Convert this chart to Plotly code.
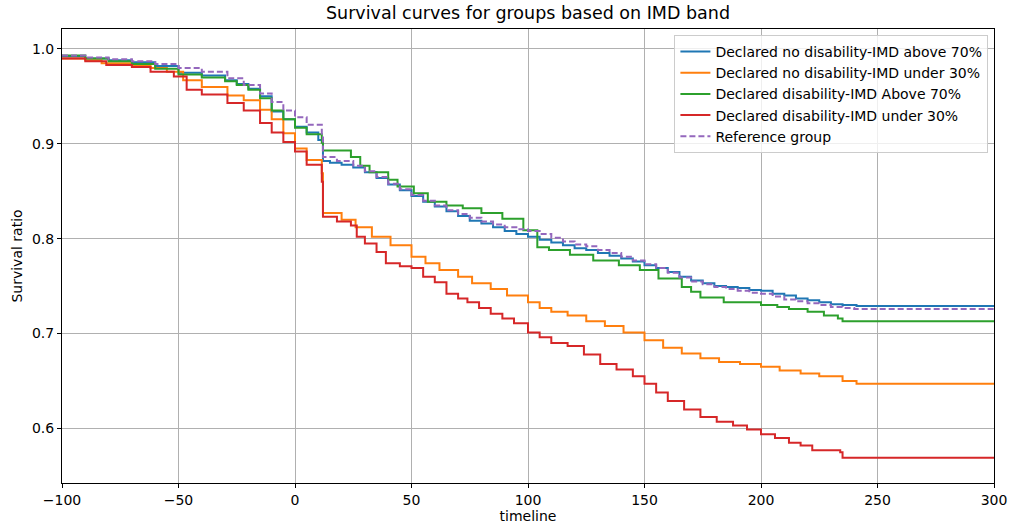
import plotly.graph_objects as go

# ---- data ----
names = [
    "Declared no disability-IMD above 70%",
    "Declared no disability-IMD under 30%",
    "Declared disability-IMD Above 70%",
    "Declared disability-IMD under 30%",
    "Reference group",
]

t_blue = [-100, -90, -80, -70, -60, -50, -40, -30, -25, -20, -15, -10, -5, 0, 5, 10, 12,
          15, 20, 25, 30, 35, 40, 45, 50, 55, 60, 65, 70, 75, 80, 85, 90, 95, 100, 105,
          110, 115, 120, 125, 130, 135, 140, 145, 150, 155, 160, 165, 170, 175, 180, 185,
          190, 195, 200, 205, 210, 215, 220, 225, 230, 235, 241, 300]
s_blue = [0.992, 0.990, 0.988, 0.986, 0.982, 0.975, 0.972, 0.967, 0.963, 0.958, 0.950,
          0.934, 0.926, 0.918, 0.912, 0.904, 0.882, 0.880, 0.878, 0.875, 0.870, 0.864,
          0.857, 0.851, 0.845, 0.839, 0.834, 0.829, 0.824, 0.819, 0.816, 0.812, 0.808,
          0.805, 0.802, 0.799, 0.796, 0.793, 0.790, 0.788, 0.785, 0.782, 0.779, 0.776,
          0.772, 0.769, 0.765, 0.760, 0.756, 0.753, 0.750, 0.749, 0.748, 0.746, 0.745,
          0.742, 0.740, 0.737, 0.735, 0.733, 0.731, 0.730, 0.729, 0.729]

t_orange = [-100, -90, -83, -70, -62, -55, -48, -40, -29, -22, -15, -10, -5, 0, 5, 11.5,
            12, 20, 26, 33, 41, 50, 56, 62, 70, 76, 84, 91, 100, 105, 110, 117, 125, 133,
            141, 150, 158, 166, 174, 182, 191, 200, 208, 217, 225, 235, 241, 300]
s_orange = [0.990, 0.988, 0.985, 0.982, 0.980, 0.976, 0.967, 0.960, 0.951, 0.946, 0.936,
            0.926, 0.911, 0.895, 0.883, 0.869, 0.827, 0.820, 0.812, 0.802, 0.793, 0.781,
            0.774, 0.767, 0.760, 0.753, 0.747, 0.740, 0.733, 0.727, 0.723, 0.719, 0.713,
            0.708, 0.701, 0.693, 0.685, 0.679, 0.674, 0.670, 0.668, 0.665, 0.661, 0.658,
            0.655, 0.650, 0.647, 0.647]

t_green = [-100, -90, -80, -70, -60, -50, -40, -30, -25, -20, -15, -10, -5, 0, 5, 11.5,
           12, 24, 28, 32, 40, 44, 51, 57, 65, 72, 80, 89, 98, 104, 109, 118, 128, 139,
           148, 156, 166, 170, 174, 184, 200, 207, 212, 220, 227, 233, 235, 300]
s_green = [0.993, 0.990, 0.987, 0.984, 0.979, 0.973, 0.970, 0.966, 0.962, 0.957, 0.948,
           0.935, 0.926, 0.917, 0.910, 0.901, 0.893, 0.886, 0.877, 0.870, 0.862, 0.855,
           0.848, 0.839, 0.835, 0.832, 0.827, 0.821, 0.809, 0.791, 0.788, 0.783, 0.777,
           0.772, 0.767, 0.758, 0.749, 0.744, 0.738, 0.733, 0.730, 0.728, 0.726, 0.723,
           0.719, 0.716, 0.713, 0.713]

t_red = [-100, -90, -81, -70, -62, -52, -46.5, -40, -29, -22, -15, -10, -5, 0, 5, 11.5,
         12, 18, 24, 26.5, 30, 35, 39, 45, 50, 55, 60, 65, 70, 74, 79, 84, 89, 94, 100,
         105, 110, 117, 124, 131, 138, 145, 150, 155, 160, 167, 174, 181, 188, 194, 200,
         206, 212, 217, 222, 234, 235, 300]
s_red = [0.990, 0.987, 0.983, 0.981, 0.976, 0.971, 0.957, 0.952, 0.943, 0.935, 0.922,
         0.912, 0.902, 0.892, 0.878, 0.860, 0.823, 0.818, 0.814, 0.802, 0.795, 0.786,
         0.774, 0.771, 0.769, 0.760, 0.754, 0.742, 0.737, 0.733, 0.727, 0.721, 0.716,
         0.711, 0.701, 0.696, 0.690, 0.687, 0.678, 0.668, 0.662, 0.655, 0.647, 0.638,
         0.629, 0.620, 0.612, 0.607, 0.603, 0.599, 0.594, 0.590, 0.585, 0.582, 0.577,
         0.575, 0.569, 0.569]

t_ref = [-100, -90, -80, -70, -60, -50, -40, -29, -22, -15, -10, -5, 0, 5, 11.5, 12, 18,
         25, 30, 35, 40, 45, 50, 55, 60, 65, 70, 75, 80, 85, 90, 95, 100, 105, 110, 115,
         120, 125, 130, 135, 140, 145, 150, 155, 160, 165, 170, 175, 180, 185, 190, 195,
         200, 205, 210, 215, 220, 225, 230, 235, 240, 300]
s_ref = [0.993, 0.991, 0.989, 0.987, 0.984, 0.980, 0.976, 0.969, 0.962, 0.953, 0.944,
         0.935, 0.928, 0.920, 0.909, 0.886, 0.882, 0.877, 0.871, 0.865, 0.858, 0.852,
         0.846, 0.840, 0.835, 0.830, 0.826, 0.822, 0.818, 0.815, 0.812, 0.810, 0.808,
         0.805, 0.801, 0.797, 0.794, 0.792, 0.788, 0.785, 0.781, 0.777, 0.773, 0.769,
         0.764, 0.759, 0.755, 0.752, 0.749, 0.747, 0.745, 0.743, 0.742, 0.739, 0.736,
         0.734, 0.732, 0.730, 0.728, 0.727, 0.726, 0.726]

x_ticks = [-100, -50, 0, 50, 100, 150, 200, 250, 300]
y_ticks = [0.6, 0.7, 0.8, 0.9, 1.0]

colors = ["#1f77b4", "#ff7f0e", "#2ca02c", "#d62728", "#9467bd"]
series = [(t_blue, s_blue), (t_orange, s_orange), (t_green, s_green),
          (t_red, s_red), (t_ref, s_ref)]

fig = go.Figure()
for i, ((tx, sy), name) in enumerate(zip(series, names)):
    fig.add_trace(go.Scatter(
        x=tx, y=sy, name=name, mode="lines",
        line=dict(color=colors[i], width=2, shape="hv",
                  dash="6px,3px" if i == 4 else "solid"),
    ))

axis_common = dict(
    showline=True, linecolor="black", linewidth=1, mirror=True,
    ticks="outside", ticklen=4, tickcolor="black", tickwidth=1,
    showgrid=True, gridcolor="#b0b0b0", gridwidth=1, zeroline=False,
    tickfont=dict(size=14, color="black"), automargin=False,
)

fig.update_layout(
    width=1009, height=527,
    margin=dict(l=62, r=15, t=29, b=44, autoexpand=False),
    paper_bgcolor="white", plot_bgcolor="white",
    font=dict(family="DejaVu Sans", size=14, color="black"),
    title=dict(text="Survival curves for groups based on IMD band",
               x=0.5, xref="paper", xanchor="center",
               y=1 - 13 / 527, yref="container", yanchor="middle",
               font=dict(size=17.5, color="black"), automargin=False),
    showlegend=True,
    legend=dict(x=0.994, y=0.987, xanchor="right", yanchor="top",
                bgcolor="rgba(255,255,255,0.8)", bordercolor="#cccccc",
                borderwidth=1, font=dict(size=14), tracegroupgap=0,
                itemwidth=30),
)
fig.update_xaxes(range=[-100, 300], tickvals=x_ticks,
                 title=dict(text="timeline", standoff=3, font=dict(size=14)),
                 **axis_common)
fig.update_yaxes(range=[0.5425, 1.021], tickvals=y_ticks, tickformat=".1f",
                 title=dict(text="Survival ratio", standoff=6, font=dict(size=14)),
                 **axis_common)

# remove the browser's default 8px page margin so the figure fills the window
fig.write_html("out.html",
               config={"displayModeBar": False},
               post_script="document.body.style.margin='0';")
